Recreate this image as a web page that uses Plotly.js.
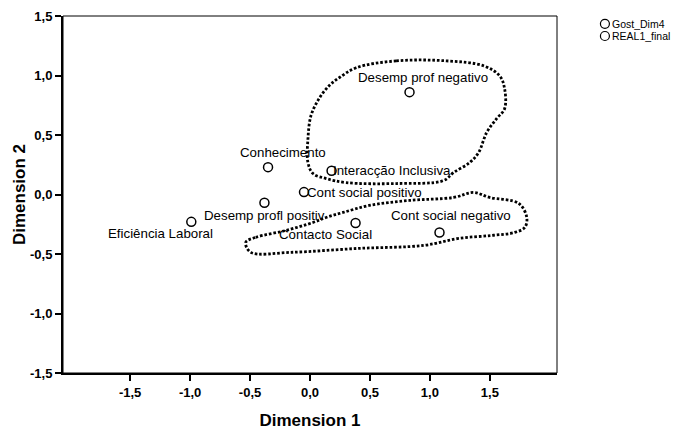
<!DOCTYPE html>
<html>
<head>
<meta charset="utf-8">
<script src="https://cdn.plot.ly/plotly-3.0.1.min.js"></script>
<style>html,body{margin:0;padding:0;background:#fff;}#chart{width:689px;height:430px;}</style>
</head>
<body>
<div id="chart"></div>
<script>
// Series names
const seriesNames = ['Gost_Dim4', 'REAL1_final'];

// Series 1: Gost_Dim4
const gostLabels = ['Conhecimento', 'Interacção Inclusiva', 'Eficiência Laboral', 'Contacto Social'];
const gostX = [-0.35, 0.18, -0.99, 0.38];
const gostY = [0.23, 0.20, -0.23, -0.24];

// Series 2: REAL1_final
const realLabels = ['Desemp prof negativo', 'Desemp profl positiv', 'Cont social positivo', 'Cont social negativo'];
const realX = [0.83, -0.38, -0.05, 1.08];
const realY = [0.86, -0.07, 0.02, -0.32];

// Axis ticks
const tickVals = [-1.5, -1.0, -0.5, 0.0, 0.5, 1.0, 1.5];
const tickText = ['-1,5', '-1,0', '-0,5', '0,0', '0,5', '1,0', '1,5'];

// Hand-drawn dotted outlines (data units)
const upperLoopX = [0.385, 0.72, 1.138, 1.448, 1.582, 1.623, 1.623, 1.556, 1.473, 1.406, 1.331, 1.197, 1.113, 0.72, 0.301, 0.134, 0.025, -0.017, -0.017, 0.008, 0.075, 0.159, 0.243, 0.385];
const upperLoopY = [1.065, 1.123, 1.123, 1.081, 0.997, 0.889, 0.721, 0.637, 0.52, 0.352, 0.268, 0.184, 0.117, 0.092, 0.1, 0.134, 0.176, 0.268, 0.469, 0.662, 0.805, 0.914, 0.981, 1.065];
const lowerLoopX = [-0.536, -0.452, -0.2, 0.025, 0.134, 0.276, 0.494, 0.828, 1.197, 1.364, 1.498, 1.741, 1.808, 1.791, 1.707, 1.515, 1.238, 0.954, 0.402, -0.159, -0.494, -0.536];
const lowerLoopY = [-0.402, -0.36, -0.302, -0.235, -0.193, -0.151, -0.092, -0.05, -0.025, 0.017, -0.025, -0.075, -0.193, -0.277, -0.319, -0.344, -0.369, -0.427, -0.453, -0.486, -0.486, -0.402];

// label placement (pixel offsets): [xshift, yshift, xanchor]
const gostLabelPos = [[15, 15, 'center'], [-1, 0, 'left'], [-31, -12, 'center'], [-30, -11, 'center']];
const realLabelPos = [[13, 15, 'center'], [0, -13, 'center'], [1, 0, 'left'], [11, 17, 'center']];

const FONT = 'Liberation Sans, Arial, sans-serif';
const marker = {symbol: 'circle-open', size: 9, color: '#000', line: {width: 1.5, color: '#000'}};

const traces = [
  {x: upperLoopX, y: upperLoopY, mode: 'lines', line: {color: '#000', width: 2.8, dash: '2.6px,1.9px', shape: 'spline', smoothing: 1}, showlegend: false, hoverinfo: 'skip'},
  {x: lowerLoopX, y: lowerLoopY, mode: 'lines', line: {color: '#000', width: 2.8, dash: '2.6px,1.9px', shape: 'spline', smoothing: 1}, showlegend: false, hoverinfo: 'skip'},
  {x: gostX, y: gostY, text: gostLabels, name: seriesNames[0], mode: 'markers', marker: marker, showlegend: false},
  {x: realX, y: realY, text: realLabels, name: seriesNames[1], mode: 'markers', marker: marker, showlegend: false}
];

const annotations = [];
function addLabels(xs, ys, labels, pos) {
  labels.forEach((t, i) => {
    annotations.push({x: xs[i], y: ys[i], xref: 'x', yref: 'y', text: t, showarrow: false,
      xshift: pos[i][0], yshift: pos[i][1], xanchor: pos[i][2], yanchor: 'middle',
      font: {family: FONT, size: 13.3, color: '#000'}});
  });
}
addLabels(gostX, gostY, gostLabels, gostLabelPos);
addLabels(realX, realY, realLabels, realLabelPos);

// manual legend
const legendY = [0.978, 0.944];
seriesNames.forEach((n, i) => {
  annotations.push({xref: 'paper', yref: 'paper', x: 1.108, y: legendY[i], text: n, showarrow: false,
    xanchor: 'left', yanchor: 'middle', font: {family: FONT, size: 10.5, color: '#000'}});
});

const shapes = [
  {type: 'rect', xref: 'paper', yref: 'paper', x0: 0, x1: 1, y0: 0, y1: 1, line: {color: '#000', width: 1}},
];
seriesNames.forEach((n, i) => {
  shapes.push({type: 'circle', xref: 'paper', yref: 'paper', xsizemode: 'pixel', ysizemode: 'pixel',
    xanchor: 1.097, yanchor: legendY[i], x0: -4.5, x1: 4.5, y0: -4.5, y1: 4.5, line: {color: '#000', width: 1.2}});
});

const layout = {
  width: 689, height: 430,
  margin: {l: 63, r: 132, t: 16, b: 57},
  paper_bgcolor: '#fff', plot_bgcolor: '#fff',
  showlegend: false,
  xaxis: {
    range: [-2.06, 2.06], tickvals: tickVals, ticktext: tickText,
    showgrid: false, zeroline: false, showline: true, linecolor: '#000', linewidth: 2,
    ticks: 'outside', ticklen: 6, tickwidth: 2, tickcolor: '#000',
    tickfont: {family: FONT, size: 13, color: '#000', weight: 'bold'},
    title: {text: 'Dimension 1', font: {family: FONT, size: 17, color: '#000', weight: 'bold'}, standoff: 19}
  },
  yaxis: {
    range: [-1.5, 1.5], tickvals: tickVals, ticktext: tickText,
    showgrid: false, zeroline: false, showline: true, linecolor: '#000', linewidth: 2,
    ticks: 'outside', ticklen: 6, tickwidth: 2, tickcolor: '#000',
    tickfont: {family: FONT, size: 13, color: '#000', weight: 'bold'},
    title: {text: 'Dimension 2', font: {family: FONT, size: 17, color: '#000', weight: 'bold'}, standoff: 0}
  },
  annotations: annotations,
  shapes: shapes
};

Plotly.newPlot('chart', traces, layout, {displayModeBar: false, staticPlot: true});
</script>
</body>
</html>
